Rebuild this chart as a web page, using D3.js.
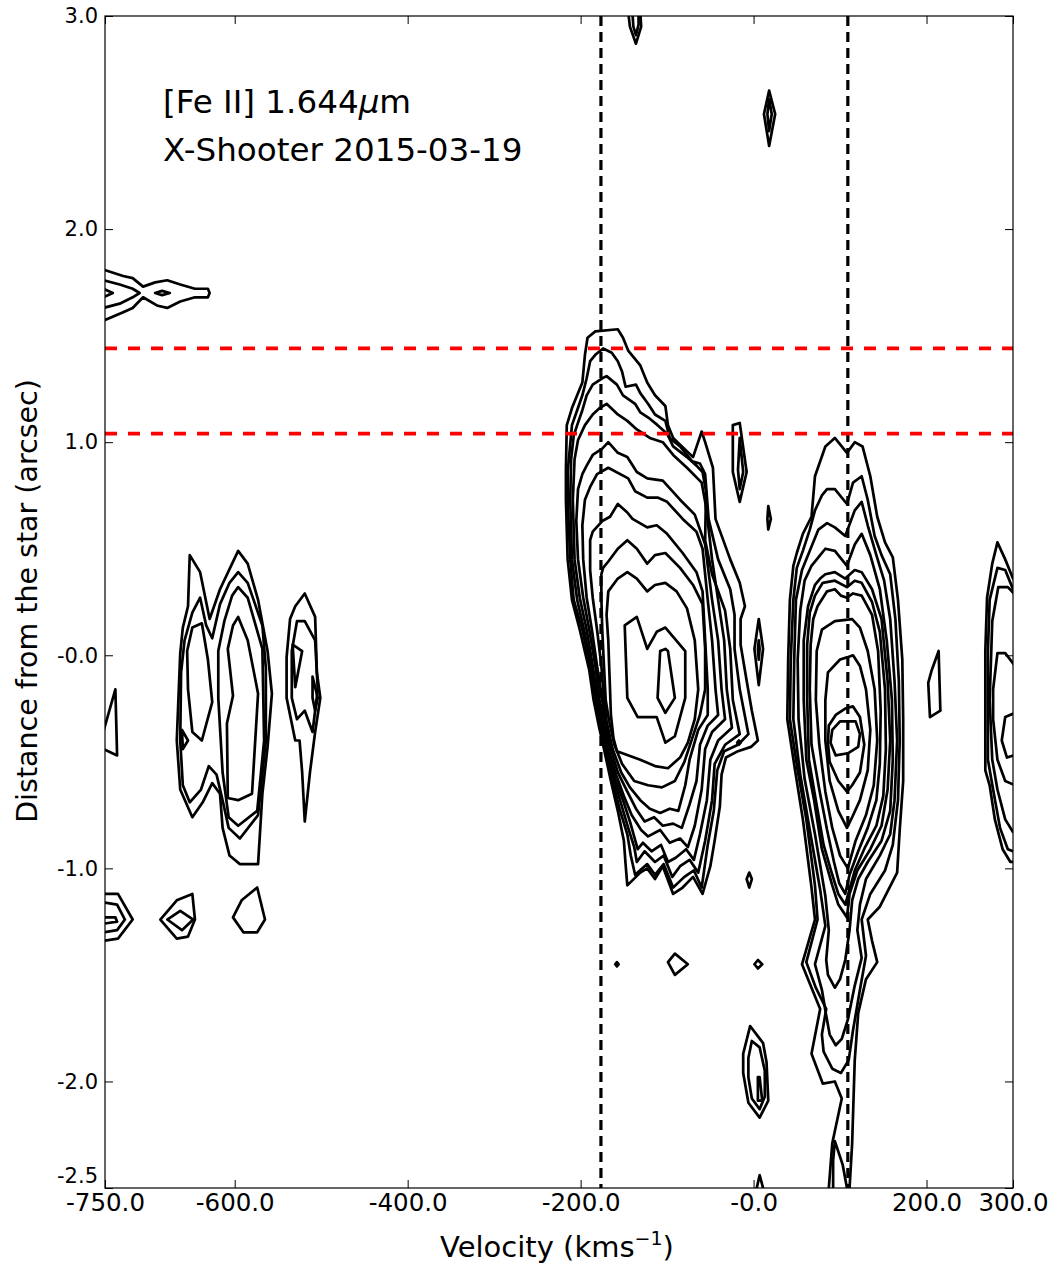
<!DOCTYPE html>
<html>
<head>
<meta charset="utf-8">
<script src="https://cdn.jsdelivr.net/npm/d3@7"></script>
<style>
  body { margin: 0; background: #fff; }
  svg text { font-family: "DejaVu Sans", sans-serif; fill: #000; }
</style>
</head>
<body>
<svg id="chart" width="1057" height="1265"></svg>
<script>
// ---- axis ticks -------------------------------------------------------
const xTicks = [-750, -600, -400, -200, 0, 200, 300];
const xTickLabels = ["-750.0", "-600.0", "-400.0", "-200.0", "-0.0", "200.0", "300.0"];
const yTicks = [3.0, 2.0, 1.0, 0.0, -1.0, -2.0, -2.5];
const yTickLabels = ["3.0", "2.0", "1.0", "-0.0", "-1.0", "-2.0", "-2.5"];

// ---- reference markers -----------------------------------------------
const jetVelocities = [-176.5, 109];   // km/s, vertical dashed lines
const slitOffsets = [1.44, 1.04];      // arcsec, horizontal red dashed lines

// ---- flux contours: closed polygons of [velocity (km/s), offset (arcsec)]
// blue-shifted lobe, outermost level first
const blueLobe = [
  [[-192,1.49],[-183,1.52],[-157,1.53],[-151,1.49],[-145,1.43],[-131,1.36],[-123,1.28],[-114,1.22],[-102,1.17],[-99,1.08],[-93,1.02],[-70,0.93],[-60,1.05],[-56,1.00],[-47,0.88],[-44,0.64],[-27,0.45],[-16,0.34],[-10,0.23],[-15,0.17],[-15,0.05],[-8,-0.12],[-2,-0.26],[5,-0.40],[-3,-0.43],[-18,-0.45],[-32,-0.48],[-37,-0.56],[-39,-0.71],[-45,-0.87],[-50,-0.99],[-59,-1.12],[-70,-1.04],[-82,-1.09],[-93,-1.12],[-105,-0.99],[-114,-1.05],[-123,-1.00],[-131,-1.02],[-146,-1.08],[-148,-0.98],[-150,-0.87],[-157,-0.73],[-165,-0.59],[-173,-0.44],[-179,-0.33],[-185,-0.21],[-190,-0.07],[-201,0.12],[-210,0.26],[-215,0.45],[-217,0.73],[-217,0.87],[-216,1.08],[-210,1.16],[-204,1.22],[-198,1.28],[-195,1.41]],
  [[-189,1.38],[-183,1.41],[-174,1.44],[-164,1.42],[-157,1.38],[-152,1.33],[-148,1.26],[-136,1.27],[-131,1.23],[-122,1.18],[-114,1.13],[-102,1.10],[-97,1.02],[-85,0.98],[-71,0.91],[-62,0.90],[-56,0.85],[-52,0.64],[-41,0.45],[-27,0.31],[-22,0.19],[-22,0.03],[-16,-0.16],[-6,-0.37],[-18,-0.42],[-34,-0.45],[-42,-0.54],[-46,-0.73],[-53,-0.89],[-60,-1.09],[-69,-1.01],[-80,-1.04],[-93,-1.09],[-104,-0.98],[-114,-1.03],[-123,-0.98],[-137,-1.03],[-142,-0.94],[-146,-0.84],[-155,-0.72],[-163,-0.59],[-171,-0.44],[-178,-0.33],[-183,-0.21],[-189,-0.05],[-198,0.12],[-208,0.26],[-212,0.45],[-215,0.73],[-215,0.86],[-210,1.08],[-204,1.15],[-198,1.22],[-193,1.30]],
  [[-198,1.15],[-193,1.22],[-186,1.27],[-175,1.30],[-170,1.31],[-158,1.27],[-151,1.22],[-137,1.18],[-131,1.14],[-120,1.11],[-111,1.08],[-100,1.04],[-93,0.98],[-77,0.93],[-66,0.89],[-59,0.86],[-55,0.77],[-56,0.54],[-48,0.38],[-33,0.21],[-27,0.03],[-24,-0.21],[-16,-0.37],[-33,-0.42],[-45,-0.51],[-48,-0.68],[-56,-0.87],[-64,-1.02],[-74,-0.96],[-85,-0.99],[-94,-1.04],[-104,-0.94],[-114,-0.97],[-126,-0.92],[-135,-0.97],[-138,-0.90],[-145,-0.81],[-153,-0.70],[-161,-0.59],[-170,-0.45],[-176,-0.33],[-181,-0.21],[-188,-0.05],[-196,0.12],[-204,0.26],[-210,0.45],[-212,0.73],[-211,0.92],[-208,1.03],[-204,1.08]],
  [[-203,1.01],[-195,1.08],[-186,1.13],[-178,1.16],[-170,1.18],[-157,1.13],[-146,1.10],[-135,1.06],[-120,1.02],[-105,1.00],[-93,0.94],[-77,0.88],[-60,0.81],[-56,0.72],[-53,0.63],[-48,0.45],[-41,0.26],[-34,0.07],[-31,-0.16],[-25,-0.34],[-41,-0.40],[-50,-0.49],[-54,-0.68],[-62,-0.84],[-69,-0.96],[-78,-0.91],[-90,-0.95],[-99,-0.97],[-107,-0.89],[-118,-0.92],[-128,-0.88],[-134,-0.91],[-143,-0.78],[-151,-0.68],[-160,-0.58],[-168,-0.45],[-175,-0.33],[-180,-0.21],[-186,-0.05],[-193,0.12],[-201,0.27],[-207,0.45],[-209,0.73],[-207,0.92]],
  [[-198,0.85],[-193,0.89],[-186,0.94],[-175,0.97],[-168,1.00],[-157,0.95],[-146,0.93],[-135,0.86],[-123,0.83],[-105,0.82],[-85,0.73],[-68,0.66],[-56,0.52],[-48,0.26],[-41,0.07],[-37,-0.16],[-33,-0.30],[-48,-0.36],[-56,-0.44],[-60,-0.63],[-68,-0.80],[-76,-0.90],[-85,-0.86],[-97,-0.88],[-108,-0.82],[-122,-0.85],[-130,-0.82],[-141,-0.75],[-150,-0.66],[-159,-0.56],[-167,-0.45],[-173,-0.33],[-178,-0.21],[-183,-0.05],[-190,0.12],[-197,0.27],[-203,0.45],[-205,0.63],[-203,0.78]],
  [[-195,0.73],[-189,0.79],[-181,0.85],[-168,0.88],[-145,0.83],[-137,0.77],[-123,0.74],[-111,0.74],[-100,0.72],[-82,0.64],[-66,0.58],[-59,0.50],[-53,0.26],[-48,0.07],[-44,-0.16],[-41,-0.28],[-53,-0.33],[-62,-0.42],[-66,-0.59],[-74,-0.70],[-83,-0.81],[-93,-0.79],[-105,-0.80],[-115,-0.76],[-126,-0.78],[-136,-0.72],[-146,-0.64],[-157,-0.55],[-165,-0.44],[-172,-0.31],[-175,-0.21],[-181,-0.05],[-187,0.12],[-193,0.27],[-197,0.45],[-198,0.61]],
  [[-189,0.54],[-186,0.58],[-175,0.63],[-166,0.65],[-157,0.71],[-146,0.67],[-140,0.64],[-123,0.60],[-112,0.61],[-100,0.57],[-82,0.48],[-66,0.39],[-59,0.30],[-56,0.07],[-53,-0.16],[-53,-0.28],[-64,-0.35],[-74,-0.49],[-79,-0.61],[-87,-0.73],[-97,-0.72],[-108,-0.74],[-120,-0.72],[-131,-0.68],[-143,-0.62],[-153,-0.55],[-163,-0.44],[-170,-0.31],[-173,-0.21],[-176,-0.05],[-181,0.12],[-186,0.27],[-189,0.40]],
  [[-176,0.38],[-174,0.41],[-168,0.44],[-157,0.50],[-146,0.54],[-135,0.50],[-123,0.43],[-114,0.47],[-102,0.48],[-85,0.41],[-70,0.33],[-59,0.24],[-56,0.03],[-56,-0.16],[-62,-0.28],[-71,-0.39],[-80,-0.50],[-91,-0.59],[-106,-0.62],[-122,-0.61],[-138,-0.59],[-152,-0.51],[-161,-0.42],[-167,-0.31],[-171,-0.21],[-173,-0.05],[-175,0.12],[-176,0.27]],
  [[-168,0.30],[-157,0.36],[-146,0.39],[-135,0.36],[-123,0.30],[-114,0.33],[-102,0.34],[-89,0.30],[-77,0.22],[-68,0.07],[-64,-0.16],[-68,-0.30],[-76,-0.41],[-85,-0.48],[-99,-0.53],[-114,-0.52],[-131,-0.49],[-158,-0.45],[-162,-0.39],[-165,-0.28],[-166,-0.16],[-167,-0.05],[-168,0.07],[-170,0.19]],
  [[-149,0.14],[-135,0.18],[-123,0.03],[-112,0.11],[-102,0.13],[-79,0.02],[-79,-0.20],[-91,-0.38],[-102,-0.41],[-112,-0.29],[-134,-0.29],[-146,-0.20]],
  [[-108,0.02],[-102,0.03],[-99,0.02],[-91,-0.20],[-102,-0.27],[-111,-0.20]],
  [[-19,-0.41],[-17,-0.40],[-15,-0.41],[-17,-0.42]]
];

// red-shifted lobe with its southern tail, outermost level first
const redLobe = [
  [[83,0.98],[94,1.02],[108,0.95],[117,1.00],[126,0.98],[135,0.84],[143,0.65],[152,0.53],[161,0.46],[167,0.26],[172,-0.02],[173,-0.30],[173,-0.59],[169,-0.82],[166,-1.02],[146,-1.18],[132,-1.24],[137,-1.34],[143,-1.44],[130,-1.52],[121,-1.68],[117,-1.90],[114,-2.29],[111,-2.50],[111,-2.56],[87,-2.56],[87,-2.50],[91,-2.29],[102,-2.08],[94,-2.00],[80,-2.01],[67,-1.87],[77,-1.66],[69,-1.58],[56,-1.45],[71,-1.24],[67,-1.09],[57,-0.77],[48,-0.54],[39,-0.30],[40,-0.02],[42,0.26],[46,0.42],[50,0.48],[57,0.57],[67,0.65],[71,0.84]],
  [[71,0.68],[79,0.75],[85,0.78],[94,0.78],[108,0.71],[115,0.81],[125,0.84],[132,0.73],[140,0.56],[148,0.47],[158,0.38],[164,0.17],[168,-0.12],[169,-0.40],[167,-0.68],[161,-0.89],[152,-1.01],[135,-1.12],[125,-1.24],[130,-1.41],[123,-1.57],[115,-1.76],[110,-1.90],[101,-1.96],[91,-1.94],[81,-1.86],[79,-1.78],[84,-1.66],[72,-1.56],[61,-1.44],[74,-1.24],[71,-1.08],[61,-0.77],[51,-0.54],[42,-0.30],[43,-0.02],[46,0.26],[50,0.41],[57,0.49],[65,0.59]],
  [[65,0.49],[75,0.59],[85,0.62],[94,0.60],[106,0.56],[117,0.68],[125,0.72],[132,0.61],[142,0.47],[151,0.35],[158,0.17],[163,-0.12],[166,-0.40],[163,-0.68],[158,-0.84],[146,-0.94],[130,-1.05],[123,-1.17],[120,-1.29],[125,-1.42],[117,-1.55],[109,-1.71],[102,-1.80],[95,-1.83],[88,-1.78],[84,-1.69],[79,-1.57],[71,-1.45],[83,-1.27],[77,-1.10],[65,-0.82],[54,-0.56],[46,-0.30],[47,-0.02],[49,0.26],[56,0.40]],
  [[77,0.47],[83,0.50],[94,0.49],[108,0.42],[117,0.52],[125,0.57],[135,0.47],[146,0.31],[154,0.07],[160,-0.21],[161,-0.49],[158,-0.73],[148,-0.87],[132,-0.97],[121,-1.05],[114,-1.15],[111,-1.29],[106,-1.43],[100,-1.52],[94,-1.56],[86,-1.50],[84,-1.43],[87,-1.29],[83,-1.13],[71,-0.84],[59,-0.58],[52,-0.30],[51,-0.02],[54,0.21],[59,0.35],[67,0.42]],
  [[71,0.33],[77,0.36],[83,0.38],[94,0.39],[106,0.36],[117,0.40],[125,0.39],[137,0.31],[148,0.17],[155,-0.12],[158,-0.40],[155,-0.63],[148,-0.80],[135,-0.91],[120,-1.01],[111,-1.12],[108,-1.23],[98,-1.17],[91,-1.08],[79,-0.91],[70,-0.68],[61,-0.49],[58,-0.21],[58,0.07],[63,0.23]],
  [[71,0.28],[80,0.34],[94,0.35],[108,0.32],[117,0.35],[125,0.34],[137,0.25],[146,0.11],[152,-0.16],[153,-0.44],[150,-0.66],[142,-0.80],[129,-0.90],[117,-1.01],[111,-1.10],[106,-1.17],[98,-1.12],[91,-1.03],[81,-0.89],[72,-0.68],[64,-0.49],[62,-0.21],[62,0.05],[65,0.20]],
  [[74,0.23],[85,0.30],[94,0.31],[101,0.28],[108,0.27],[115,0.29],[125,0.28],[137,0.19],[144,0.02],[147,-0.26],[146,-0.51],[142,-0.68],[132,-0.81],[121,-0.92],[111,-1.03],[106,-1.12],[99,-1.07],[93,-0.97],[85,-0.82],[76,-0.63],[67,-0.42],[65,-0.16],[66,0.05],[69,0.17]],
  [[73,0.02],[79,0.12],[94,0.16],[114,0.17],[123,0.13],[132,0.02],[140,-0.16],[143,-0.40],[139,-0.61],[130,-0.75],[118,-0.87],[109,-1.00],[100,-0.94],[91,-0.81],[83,-0.64],[76,-0.42],[72,-0.21]],
  [[86,-0.08],[100,-0.02],[108,-0.01],[115,0.00],[123,-0.05],[130,-0.16],[135,-0.35],[132,-0.54],[123,-0.68],[114,-0.76],[108,-0.81],[98,-0.73],[88,-0.59],[83,-0.40],[83,-0.21]],
  [[87,-0.33],[95,-0.28],[106,-0.25],[115,-0.24],[123,-0.29],[128,-0.42],[123,-0.55],[114,-0.61],[108,-0.64],[98,-0.59],[88,-0.50],[86,-0.41]],
  [[91,-0.35],[100,-0.31],[118,-0.31],[123,-0.37],[121,-0.43],[109,-0.46],[95,-0.47],[89,-0.41]],
  [[94,-2.28],[103,-2.39],[108,-2.50],[108,-2.56],[92,-2.56],[92,-2.50],[92,-2.37]]
];

// knots between -750 and -500 km/s
const westKnots = [
  [[-752,-0.36],[-738,-0.16],[-736,-0.47],[-752,-0.44]],
  [[-652,0.47],[-640,0.39],[-629,0.17],[-617,0.31],[-603,0.43],[-596,0.49],[-585,0.43],[-573,0.26],[-562,0.02],[-557,-0.18],[-562,-0.43],[-568,-0.65],[-573,-0.98],[-594,-0.98],[-606,-0.94],[-614,-0.81],[-617,-0.65],[-626,-0.60],[-637,-0.69],[-649,-0.76],[-663,-0.63],[-667,-0.40],[-663,0.01],[-660,0.13],[-654,0.23]],
  [[-658,0.07],[-649,0.20],[-640,0.27],[-633,0.14],[-626,0.08],[-617,0.24],[-606,0.34],[-596,0.39],[-585,0.34],[-568,0.14],[-564,-0.06],[-564,-0.40],[-573,-0.75],[-594,-0.86],[-607,-0.81],[-614,-0.68],[-621,-0.56],[-630,-0.52],[-639,-0.63],[-652,-0.69],[-660,-0.61],[-663,-0.40],[-662,-0.08]],
  [[-619,0.02],[-612,0.16],[-603,0.28],[-596,0.32],[-585,0.27],[-568,0.03],[-566,-0.40],[-574,-0.73],[-596,-0.80],[-607,-0.76],[-614,-0.55],[-619,-0.20]],
  [[-608,0.03],[-602,0.14],[-596,0.18],[-585,0.07],[-573,-0.18],[-580,-0.65],[-596,-0.68],[-608,-0.67],[-609,-0.32],[-602,-0.19]],
  [[-655,0.02],[-649,0.13],[-638,0.15],[-631,-0.02],[-626,-0.22],[-638,-0.40],[-649,-0.36],[-654,-0.16]],
  [[-661,-0.35],[-654,-0.40],[-660,-0.44]],
  [[-519,0.29],[-507,0.18],[-505,-0.08],[-501,-0.20],[-507,-0.36],[-513,-0.55],[-519,-0.78],[-522,-0.55],[-525,-0.40],[-530,-0.40],[-540,-0.20],[-540,-0.01],[-536,0.17],[-530,0.23]],
  [[-528,0.16],[-519,0.16],[-507,0.07],[-504,-0.16],[-510,-0.36],[-519,-0.26],[-528,-0.30],[-534,-0.20],[-534,0.02]],
  [[-533,0.05],[-522,0.02],[-530,-0.15]],
  [[-510,-0.10],[-504,-0.20],[-507,-0.26],[-510,-0.20]]
];

// faint knots south of the star
const southKnots = [
  [[-752,-1.12],[-735,-1.12],[-718,-1.24],[-735,-1.33],[-752,-1.34]],
  [[-752,-1.16],[-736,-1.17],[-727,-1.24],[-736,-1.29],[-752,-1.30]],
  [[-752,-1.23],[-738,-1.23],[-736,-1.25],[-752,-1.26]],
  [[-686,-1.24],[-667,-1.15],[-649,-1.12],[-646,-1.24],[-654,-1.32],[-667,-1.33]],
  [[-678,-1.24],[-663,-1.20],[-648,-1.24],[-661,-1.29]],
  [[-602,-1.23],[-592,-1.15],[-574,-1.09],[-565,-1.24],[-574,-1.30],[-590,-1.30]],
  [[-160,-1.45],[-158,-1.44],[-156,-1.45],[-158,-1.46]],
  [[-99,-1.44],[-91,-1.40],[-76,-1.45],[-91,-1.50]],
  [[1,-1.45],[5,-1.43],[10,-1.45],[5,-1.47]],
  [[-5,-1.02],[-2,-1.05],[-5,-1.09],[-8,-1.05]],
  [[-4,-1.74],[11,-1.82],[15,-1.91],[17,-2.09],[7,-2.17],[-6,-2.10],[-12,-1.96],[-12,-1.87]],
  [[-2,-1.81],[7,-1.84],[13,-1.95],[13,-2.07],[7,-2.13],[-2,-2.08],[-6,-1.98],[-6,-1.89]],
  [[5,-1.98],[7,-1.98],[10,-2.09],[5,-2.09]],
  [[7,-2.44],[2,-2.53],[13,-2.53]]
];

// faint knots north of the star
const northKnots = [
  [[-752,1.81],[-729,1.78],[-718,1.77],[-706,1.73],[-692,1.75],[-678,1.76],[-663,1.74],[-646,1.72],[-631,1.72],[-629,1.70],[-631,1.68],[-646,1.68],[-663,1.66],[-678,1.63],[-689,1.64],[-706,1.68],[-718,1.63],[-729,1.61],[-752,1.57]],
  [[-752,1.76],[-733,1.74],[-718,1.72],[-710,1.70],[-718,1.68],[-733,1.65],[-752,1.63]],
  [[-752,1.72],[-741,1.70],[-752,1.68]],
  [[-692,1.70],[-684,1.71],[-675,1.70],[-684,1.69]],
  [[-145,3.02],[-143,2.95],[-136,2.87],[-130,2.95],[-131,3.02]],
  [[-140,3.01],[-139,2.95],[-136,2.91],[-133,2.96],[-133,3.01]],
  [[18,2.65],[12,2.54],[18,2.39],[25,2.54]],
  [[18,2.61],[16,2.54],[18,2.46],[21,2.54]],
  [[-24,1.08],[-16,1.09],[-8,0.86],[-16,0.72],[-24,0.86]],
  [[-16,1.02],[-12,0.86],[-16,0.78],[-18,0.87]],
  [[17,0.70],[20,0.64],[17,0.59],[16,0.64]],
  [[6,0.17],[11,0.03],[6,-0.14],[1,0.03]],
  [[6,0.07],[7,0.03],[6,-0.02],[5,0.03]]
];

// emission at the red edge of the window
const eastKnots = [
  [[308,0.36],[300,0.36],[291,0.45],[282,0.53],[276,0.43],[270,0.27],[268,0.02],[268,-0.54],[273,-0.61],[279,-0.77],[288,-0.91],[297,-0.97],[308,-0.97]],
  [[308,0.31],[300,0.31],[291,0.40],[282,0.41],[273,0.26],[271,0.02],[271,-0.49],[277,-0.63],[285,-0.81],[294,-0.91],[300,-0.92],[308,-0.92]],
  [[308,0.26],[294,0.32],[283,0.32],[276,0.16],[273,-0.21],[276,-0.49],[282,-0.63],[291,-0.77],[300,-0.83],[308,-0.83]],
  [[308,-0.08],[291,0.01],[282,0.01],[277,-0.16],[277,-0.30],[282,-0.49],[291,-0.59],[308,-0.62]],
  [[308,-0.26],[291,-0.29],[287,-0.40],[293,-0.48],[308,-0.46]],
  [[214,0.02],[216,-0.26],[204,-0.29],[202,-0.13],[206,-0.07]]
];

// ---- layout ------------------------------------------------------------
const W = 1057, H = 1265;
const plot = { left: 105, right: 1013, top: 16, bottom: 1188 };

const svg = d3.select("#chart");
const x = d3.scaleLinear().domain([-750, 300]).range([plot.left, plot.right]);
const y = d3.scaleLinear().domain([-2.5, 3.0]).range([plot.bottom, plot.top]);

svg.append("rect").attr("width", W).attr("height", H).attr("fill", "#fff");

svg.append("clipPath").attr("id", "plot-clip")
  .append("rect")
  .attr("x", plot.left).attr("y", plot.top)
  .attr("width", plot.right - plot.left)
  .attr("height", plot.bottom - plot.top);

const inner = svg.append("g").attr("clip-path", "url(#plot-clip)");

const contourLine = d3.line()
  .x(d => x(d[0]))
  .y(d => y(d[1]))
  .curve(d3.curveLinearClosed);

const allContours = [].concat(blueLobe, redLobe, westKnots, southKnots, northKnots, eastKnots);

inner.append("g")
  .selectAll("path")
  .data(allContours)
  .join("path")
  .attr("d", contourLine)
  .attr("fill", "none")
  .attr("stroke", "#000")
  .attr("stroke-width", 2.7)
  .attr("stroke-linejoin", "round");

// vertical dashed velocity markers
inner.append("g")
  .selectAll("line")
  .data(jetVelocities)
  .join("line")
  .attr("x1", d => x(d)).attr("x2", d => x(d))
  .attr("y1", plot.top).attr("y2", plot.bottom)
  .attr("stroke", "#000")
  .attr("stroke-width", 3.2)
  .attr("stroke-dasharray", "10,6");

// horizontal red dashed offsets
inner.append("g")
  .selectAll("line")
  .data(slitOffsets)
  .join("line")
  .attr("x1", plot.left).attr("x2", plot.right)
  .attr("y1", d => y(d)).attr("y2", d => y(d))
  .attr("stroke", "#ff0000")
  .attr("stroke-width", 3.8)
  .attr("stroke-dasharray", "12,11");

// ---- axes --------------------------------------------------------------
const xTickFont = 24.5;
const yTickFont = 21;
const xLabelOf = d => xTickLabels[xTicks.indexOf(d)];
const yLabelOf = d => yTickLabels[yTicks.indexOf(d)];

function styleAxis(g, size) {
  g.select(".domain").remove();
  g.selectAll(".tick line").attr("stroke", "#000").attr("stroke-width", 1);
  g.selectAll(".tick text")
    .attr("font-family", "DejaVu Sans, sans-serif")
    .attr("font-size", size)
    .attr("fill", "#000");
}

svg.append("g")
  .attr("transform", `translate(0,${plot.bottom})`)
  .call(d3.axisBottom(x).tickValues(xTicks).tickFormat(xLabelOf).tickSizeInner(-8).tickSizeOuter(0).tickPadding(6))
  .call(styleAxis, xTickFont);

svg.append("g")
  .attr("transform", `translate(0,${plot.top})`)
  .call(d3.axisTop(x).tickValues(xTicks).tickFormat("").tickSizeInner(-8).tickSizeOuter(0))
  .call(styleAxis, xTickFont);

const yAxisG = svg.append("g")
  .attr("transform", `translate(${plot.left},0)`)
  .call(d3.axisLeft(y).tickValues(yTicks).tickFormat(yLabelOf).tickSizeInner(-8).tickSizeOuter(0).tickPadding(7))
  .call(styleAxis, yTickFont);
// the lowest label sits just above its tick, clear of the velocity labels
yAxisG.selectAll(".tick text").filter(d => d === -2.5).attr("dy", "-0.25em");

svg.append("g")
  .attr("transform", `translate(${plot.right},0)`)
  .call(d3.axisRight(y).tickValues(yTicks).tickFormat("").tickSizeInner(-8).tickSizeOuter(0))
  .call(styleAxis, yTickFont);

// frame
svg.append("rect")
  .attr("x", plot.left).attr("y", plot.top)
  .attr("width", plot.right - plot.left)
  .attr("height", plot.bottom - plot.top)
  .attr("fill", "none")
  .attr("stroke", "#000")
  .attr("stroke-width", 1.2);

// ---- labels ------------------------------------------------------------
const xLabel = svg.append("text")
  .attr("x", 557)
  .attr("y", 1257)
  .attr("text-anchor", "middle")
  .attr("font-size", 29);
xLabel.append("tspan").text("Velocity (kms");
xLabel.append("tspan").attr("font-size", 19).attr("dy", -12).text("\u22121");
xLabel.append("tspan").attr("dy", 12).text(")");

svg.append("text")
  .attr("transform", `translate(37,601) rotate(-90)`)
  .attr("text-anchor", "middle")
  .attr("font-size", 28.5)
  .text("Distance from the star (arcsec)");

const title1 = svg.append("text")
  .attr("x", 163).attr("y", 113)
  .attr("font-size", 32.6);
title1.append("tspan").text("[Fe II] 1.644");
title1.append("tspan").attr("font-style", "italic").text("\u03bc");
title1.append("tspan").text("m");

svg.append("text")
  .attr("x", 163).attr("y", 161)
  .attr("font-size", 32.6)
  .text("X-Shooter 2015-03-19");
</script>
</body>
</html>
